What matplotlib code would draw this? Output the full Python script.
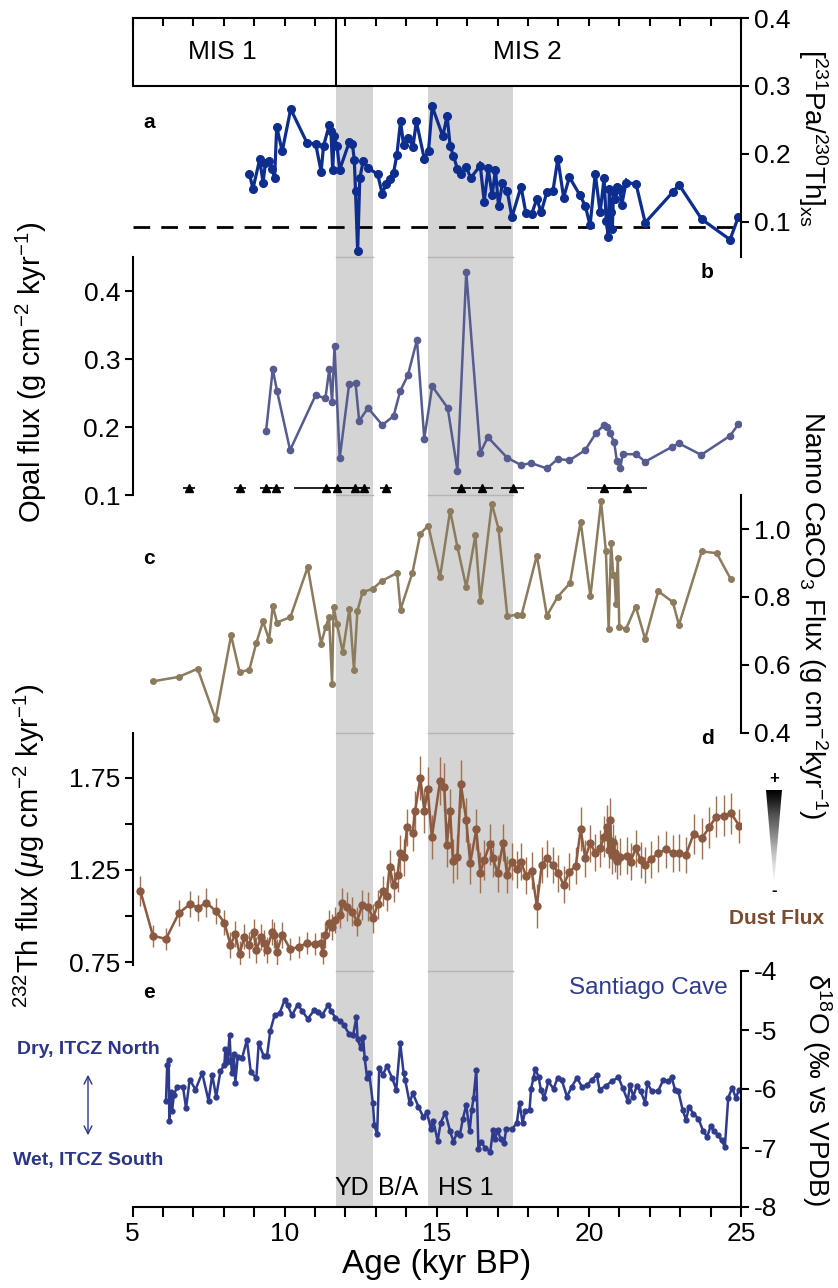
import matplotlib
matplotlib.use("Agg")
import matplotlib.pyplot as plt
import numpy as np
from matplotlib.patches import Polygon
from matplotlib.transforms import blended_transform_factory

plt.rcParams['font.family'] = ['Liberation Sans', 'DejaVu Sans']
plt.rcParams['mathtext.fontset'] = 'custom'
plt.rcParams['mathtext.rm'] = 'Liberation Sans'
plt.rcParams['mathtext.it'] = 'Liberation Sans:italic'
plt.rcParams['mathtext.bf'] = 'Liberation Sans:bold'

# ---- data ----
yd_band = (11.7, 12.9)
hs1_band = (14.7, 17.5)
mis_boundary = 11.7
pa_th_production = 0.093

# a: 231Pa/230Th xs
pa_age = [8.84, 8.96, 9.18, 9.29, 9.37, 9.49, 9.59, 9.67, 9.74, 9.92, 10.2, 10.74, 11.02, 11.2,
          11.28, 11.47, 11.52, 11.58, 11.63, 11.72, 11.81, 12.13, 12.23, 12.29, 12.33, 12.40,
          12.47, 12.58, 12.73, 13.06, 13.21, 13.33, 13.45, 13.58, 13.69, 13.81, 13.91, 14.07,
          14.22, 14.33, 14.59, 14.73, 14.85, 15.20, 15.34, 15.44, 15.55, 15.68, 15.80, 15.96,
          16.12, 16.43, 16.56, 16.69, 16.82, 16.93, 17.03, 17.16, 17.32, 17.47, 17.77, 17.93,
          18.12, 18.29, 18.43, 18.62, 18.82, 18.98, 19.17, 19.36, 19.71, 19.88, 20.04, 20.21,
          20.37, 20.50, 20.57, 20.64, 20.67, 20.72, 20.77, 20.81, 20.86, 20.92, 21.02, 21.08,
          21.22, 21.55, 21.85, 22.76, 22.96, 23.71, 24.64, 24.91]
pa_val = [0.171, 0.149, 0.192, 0.158, 0.187, 0.190, 0.178, 0.164, 0.240, 0.204, 0.266, 0.216,
          0.215, 0.174, 0.212, 0.243, 0.234, 0.176, 0.226, 0.212, 0.177, 0.218, 0.214, 0.191,
          0.146, 0.057, 0.164, 0.189, 0.180, 0.170, 0.141, 0.156, 0.163, 0.172, 0.199, 0.248,
          0.213, 0.223, 0.211, 0.248, 0.193, 0.205, 0.270, 0.226, 0.256, 0.212, 0.197, 0.178,
          0.170, 0.181, 0.165, 0.183, 0.130, 0.179, 0.139, 0.177, 0.123, 0.157, 0.145, 0.107,
          0.152, 0.113, 0.112, 0.134, 0.114, 0.144, 0.146, 0.193, 0.136, 0.166, 0.139, 0.124,
          0.095, 0.171, 0.114, 0.164, 0.102, 0.078, 0.148, 0.114, 0.090, 0.144, 0.134, 0.152,
          0.148, 0.125, 0.158, 0.156, 0.099, 0.144, 0.155, 0.104, 0.074, 0.107]
pa_err = 0.006

# b: opal flux
opal_age = [9.39, 9.61, 9.75, 10.18, 11.02, 11.34, 11.47, 11.56, 11.64, 11.81, 12.12, 12.33,
            12.45, 12.74, 13.21, 13.58, 13.80, 14.05, 14.35, 14.59, 14.85, 15.36, 15.68, 15.97,
            16.43, 16.68, 17.31, 17.77, 18.10, 18.62, 18.98, 19.36, 19.88, 20.23, 20.50, 20.61,
            20.70, 20.83, 20.92, 21.03, 21.11, 21.55, 21.85, 22.74, 22.96, 23.69, 24.64, 24.91]
opal_val = [0.194, 0.285, 0.253, 0.166, 0.247, 0.242, 0.286, 0.237, 0.319, 0.154, 0.263, 0.265,
            0.209, 0.228, 0.203, 0.216, 0.253, 0.276, 0.328, 0.183, 0.260, 0.228, 0.136, 0.428,
            0.162, 0.185, 0.155, 0.144, 0.147, 0.139, 0.153, 0.151, 0.166, 0.191, 0.203, 0.200,
            0.191, 0.178, 0.150, 0.139, 0.160, 0.160, 0.149, 0.171, 0.176, 0.159, 0.187, 0.204]

# age control points
tie_age = [6.87, 8.52, 9.39, 9.72, 11.37, 11.72, 12.32, 12.60, 13.34, 15.80, 16.50, 17.49, 20.51, 21.24]
tie_err = [0.2, 0.2, 0.2, 0.25, 1.05, 0.3, 0.3, 0.2, 0.2, 0.33, 0.35, 0.37, 0.56, 0.66]
tie_y = 0.11

# c: nanno CaCO3 flux
caco3_age = [5.67, 6.52, 7.14, 7.73, 8.24, 8.52, 8.84, 9.07, 9.29, 9.49, 9.61, 9.75, 10.19,
             10.76, 11.20, 11.35, 11.46, 11.56, 11.61, 11.72, 11.91, 12.13, 12.28, 12.39, 12.56,
             12.89, 13.21, 13.70, 13.81, 14.20, 14.46, 14.72, 15.11, 15.44, 15.68, 15.97, 16.27,
             16.43, 16.81, 17.03, 17.32, 17.63, 17.79, 18.29, 18.62, 18.97, 19.38, 19.73, 20.05,
             20.40, 20.56, 20.65, 20.73, 20.80, 20.84, 20.89, 20.95, 21.00, 21.22, 21.54, 21.85,
             22.28, 22.76, 22.96, 23.71, 24.20, 24.66]
caco3_val = [0.552, 0.565, 0.589, 0.441, 0.687, 0.579, 0.586, 0.665, 0.728, 0.674, 0.774, 0.725,
             0.741, 0.888, 0.663, 0.712, 0.741, 0.545, 0.771, 0.721, 0.638, 0.766, 0.586, 0.758,
             0.814, 0.824, 0.848, 0.871, 0.763, 0.871, 0.986, 1.010, 0.859, 1.054, 0.947, 0.829,
             0.981, 0.789, 1.074, 1.001, 0.743, 0.748, 0.748, 0.922, 0.745, 0.800, 0.841, 1.022,
             0.802, 1.081, 0.934, 0.707, 0.959, 0.866, 0.866, 0.780, 0.915, 0.713, 0.706, 0.772,
             0.676, 0.817, 0.785, 0.718, 0.934, 0.929, 0.853]

# d: 232Th flux
th_age = [5.26, 5.67, 6.10, 6.52, 6.88, 7.16, 7.43, 7.73, 8.02, 8.22, 8.38, 8.52, 8.68, 8.82,
          8.98, 9.07, 9.23, 9.31, 9.42, 9.59, 9.66, 9.75, 9.92, 10.19, 10.46, 10.74, 11.01,
          11.19, 11.26, 11.34, 11.45, 11.56, 11.67, 11.81, 11.89, 12.05, 12.22, 12.38, 12.55,
          12.73, 12.91, 13.06, 13.23, 13.36, 13.45, 13.58, 13.71, 13.80, 13.93, 14.02, 14.21,
          14.29, 14.46, 14.59, 14.70, 14.84, 15.11, 15.25, 15.33, 15.44, 15.53, 15.68, 15.79,
          15.97, 16.10, 16.30, 16.43, 16.56, 16.74, 16.85, 17.00, 17.18, 17.31, 17.47, 17.63,
          17.77, 17.93, 18.12, 18.29, 18.45, 18.62, 18.82, 19.00, 19.17, 19.36, 19.57, 19.73,
          19.88, 20.04, 20.21, 20.37, 20.50, 20.59, 20.65, 20.70, 20.75, 20.80, 20.86, 20.92,
          21.02, 21.24, 21.37, 21.55, 21.70, 21.85, 22.03, 22.28, 22.54, 22.76, 22.96, 23.19,
          23.44, 23.71, 23.96, 24.18, 24.43, 24.67, 24.95]
th_val = [1.136, 0.894, 0.876, 1.015, 1.064, 1.046, 1.073, 1.028, 0.965, 0.844, 0.903, 0.795,
          0.889, 0.844, 0.913, 0.817, 0.886, 0.853, 0.817, 0.916, 0.898, 0.807, 0.898, 0.820,
          0.834, 0.853, 0.847, 0.853, 0.799, 0.898, 0.961, 0.943, 0.979, 1.006, 1.073, 1.051,
          1.024, 0.970, 1.060, 1.051, 0.988, 1.064, 1.136, 1.109, 1.268, 1.169, 1.223, 1.340,
          1.319, 1.481, 1.452, 1.570, 1.750, 1.570, 1.687, 1.427, 1.734, 1.698, 1.385, 1.570,
          1.300, 1.322, 1.716, 1.521, 1.286, 1.470, 1.236, 1.304, 1.389, 1.313, 1.232, 1.398,
          1.223, 1.295, 1.254, 1.295, 1.218, 1.246, 1.055, 1.277, 1.313, 1.277, 1.232, 1.169,
          1.241, 1.272, 1.470, 1.313, 1.395, 1.344, 1.368, 1.430, 1.484, 1.360, 1.521, 1.330,
          1.400, 1.340, 1.300, 1.322, 1.326, 1.295, 1.368, 1.304, 1.277, 1.308, 1.340, 1.362,
          1.340, 1.344, 1.331, 1.445, 1.421, 1.481, 1.539, 1.544, 1.557, 1.488]
th_err = [0.08, 0.06, 0.06, 0.07, 0.07, 0.07, 0.08, 0.07, 0.07, 0.07, 0.07, 0.07, 0.07, 0.07,
          0.07, 0.07, 0.07, 0.07, 0.07, 0.07, 0.07, 0.07, 0.07, 0.06, 0.06, 0.06, 0.06,
          0.06, 0.06, 0.07, 0.07, 0.07, 0.07, 0.07, 0.08, 0.08, 0.08, 0.08, 0.08,
          0.08, 0.08, 0.08, 0.08, 0.08, 0.09, 0.09, 0.09, 0.10, 0.10, 0.10, 0.10,
          0.11, 0.12, 0.12, 0.12, 0.12, 0.13, 0.13, 0.12, 0.12, 0.12, 0.12, 0.13,
          0.12, 0.11, 0.11, 0.11, 0.11, 0.11, 0.10, 0.10, 0.10, 0.10, 0.10, 0.10,
          0.10, 0.10, 0.10, 0.12, 0.10, 0.10, 0.10, 0.10, 0.10, 0.10, 0.10, 0.12,
          0.10, 0.10, 0.10, 0.10, 0.11, 0.12, 0.10, 0.12, 0.10, 0.10, 0.10, 0.10,
          0.10, 0.10, 0.10, 0.10, 0.10, 0.10, 0.10, 0.10, 0.10, 0.10, 0.10, 0.10,
          0.11, 0.11, 0.11, 0.11, 0.11, 0.11, 0.09]

# e: Santiago Cave d18O
d18o_age = [6.10, 6.14, 6.19, 6.21, 6.25, 6.30, 6.36, 6.47, 6.66, 6.76, 6.88, 7.07, 7.29, 7.50,
            7.62, 7.75, 7.89, 8.02, 8.05, 8.12, 8.19, 8.23, 8.27, 8.33, 8.38, 8.46, 8.60, 8.76,
            8.89, 9.07, 9.15, 9.31, 9.42, 9.53, 9.67, 9.84, 10.00, 10.10, 10.24, 10.43, 10.57,
            10.76, 10.98, 11.09, 11.23, 11.43, 11.53, 11.67, 11.83, 11.94, 12.11, 12.25, 12.36,
            12.40, 12.50, 12.58, 12.63, 12.71, 12.78, 12.90, 12.95, 13.04, 13.11, 13.23, 13.36,
            13.53, 13.67, 13.80, 13.91, 13.96, 14.11, 14.21, 14.40, 14.56, 14.67, 14.81, 14.89,
            15.03, 15.13, 15.28, 15.44, 15.55, 15.66, 15.76, 15.86, 15.97, 16.08, 16.15, 16.21,
            16.30, 16.37, 16.46, 16.59, 16.76, 16.85, 16.92, 17.00, 17.10, 17.22, 17.28, 17.47,
            17.63, 17.72, 17.82, 17.91, 18.05, 18.10, 18.18, 18.24, 18.35, 18.42, 18.53, 18.67,
            18.84, 18.97, 19.11, 19.28, 19.44, 19.61, 19.77, 19.93, 20.10, 20.26, 20.35, 20.55,
            20.75, 20.97, 21.11, 21.28, 21.35, 21.46, 21.57, 21.70, 21.85, 21.92, 22.07, 22.28,
            22.45, 22.61, 22.72, 22.83, 22.94, 23.08, 23.19, 23.30, 23.43, 23.60, 23.76, 23.89,
            24.00, 24.12, 24.25, 24.36, 24.47, 24.58, 24.71, 24.83, 24.94]
d18o_val = [-6.21, -5.59, -5.50, -6.55, -6.05, -6.38, -6.10, -5.96, -5.96, -6.33, -5.84, -6.01,
            -5.73, -6.20, -5.76, -6.13, -5.70, -5.59, -5.33, -5.55, -5.09, -5.50, -5.73, -5.40,
            -5.89, -5.45, -5.48, -5.17, -5.72, -5.81, -5.22, -5.44, -5.44, -5.01, -4.75, -4.71,
            -4.49, -4.58, -4.75, -4.57, -4.67, -4.81, -4.66, -4.70, -4.75, -4.58, -4.68, -4.79,
            -4.85, -4.91, -5.06, -5.09, -4.78, -5.16, -5.30, -5.12, -5.47, -5.81, -5.73, -6.24,
            -6.61, -6.77, -5.64, -5.76, -5.61, -5.81, -6.01, -5.22, -5.73, -5.84, -6.24, -6.07,
            -6.30, -6.48, -6.39, -6.67, -6.55, -6.88, -6.57, -6.40, -6.72, -6.89, -6.75, -6.78,
            -6.50, -6.27, -6.72, -6.35, -6.15, -5.67, -7.02, -6.89, -7.00, -7.06, -6.69, -6.85,
            -6.69, -6.85, -6.91, -6.67, -6.68, -6.58, -6.24, -6.57, -6.37, -6.35, -6.00, -5.81,
            -5.66, -5.80, -6.01, -6.15, -5.87, -6.00, -5.81, -5.85, -6.13, -5.96, -5.81, -5.96,
            -5.94, -5.84, -5.76, -6.01, -5.95, -5.87, -5.80, -5.98, -6.20, -5.93, -6.13, -5.95,
            -6.04, -6.23, -5.90, -6.04, -6.03, -5.84, -5.87, -5.80, -6.01, -6.04, -6.35, -6.52,
            -6.30, -6.42, -6.50, -6.72, -6.81, -6.63, -6.72, -6.78, -6.87, -6.98, -6.15, -5.98,
            -6.15, -6.01]

# ---- layout helpers (pixel -> figure fraction) ----
W, H = 838, 1288
def fx(x):
    return x / W
def fy(y):
    return 1 - y / H

X0, X1 = 132.5, 741
def panel(top, bottom):
    return [fx(X0), fy(bottom), fx(X1) - fx(X0), (bottom - top) / H]

fig = plt.figure(figsize=(W / 100, H / 100), dpi=100)

col_a = '#0d2d8f'
col_b = '#565b90'
col_c = '#8c7b5d'
col_d = '#8b5a40'
col_e = '#2f3b8c'
shade = '#d4d4d4'
lw_sp = 1.5
tick_fs = 19
label_fs = 20

# background shading axes
ax_bg = fig.add_axes(panel(87, 1207))
ax_bg.set_xlim(5, 25)
ax_bg.set_ylim(0, 1)
ax_bg.axis('off')
for b0, b1 in (yd_band, hs1_band):
    ax_bg.axvspan(b0, b1, color=shade, lw=0)

ax_a = fig.add_axes(panel(18, 257))
ax_b = fig.add_axes(panel(257, 495))
ax_c = fig.add_axes(panel(495, 733))
ax_d = fig.add_axes(panel(733, 965))
ax_e = fig.add_axes(panel(971, 1207))

trans = blended_transform_factory(ax_bg.transData, fig.transFigure)
for ax in (ax_b, ax_c, ax_d, ax_e):
    ytop = ax.get_position().y1
    for b0, b1 in (yd_band, hs1_band):
        ax_bg.plot([b0, b1], [ytop, ytop], color='#b5b5b5', lw=1, transform=trans)

for ax in (ax_a, ax_b, ax_c, ax_d, ax_e):
    ax.set_facecolor('none')
    ax.set_xlim(5, 25)
    for s in ax.spines.values():
        s.set_visible(False)
        s.set_linewidth(lw_sp)
    ax.tick_params(axis='x', bottom=False, labelbottom=False)
    ax.tick_params(axis='y', labelsize=tick_fs, width=lw_sp, length=6, direction='out')

def right_axis(ax):
    ax.spines['right'].set_visible(True)
    ax.yaxis.tick_right()
    ax.tick_params(axis='y', left=False, right=True, labelleft=False, labelright=True, pad=3)

def left_axis(ax):
    ax.spines['left'].set_visible(True)
    ax.tick_params(axis='y', left=True, right=False, pad=3)

# ---- a ----
ax_a.set_ylim(0.0485, 0.4)
right_axis(ax_a)
ax_a.set_yticks([0.1, 0.2, 0.3, 0.4])
ax_a.set_yticklabels(['0.1', '0.2', '0.3', '0.4'])
ax_a.spines['top'].set_visible(True)
ax_a.spines['left'].set_visible(True)
ax_a.spines['left'].set_bounds(0.3, 0.4)
ax_a.tick_params(axis='x', top=True, bottom=False, labeltop=False, labelbottom=False,
                 direction='in', length=6, width=lw_sp)
ax_a.set_xticks(range(5, 26))
ax_a.axhline(0.3, color='black', lw=lw_sp)
ax_a.plot([mis_boundary, mis_boundary], [0.3, 0.4], color='black', lw=lw_sp)
ax_a.text(7.95, 0.35, 'MIS 1', ha='center', va='center', fontsize=19)
ax_a.text(17.97, 0.35, 'MIS 2', ha='center', va='center', fontsize=19)
ax_a.axhline(pa_th_production, color='black', lw=2, dashes=(6, 4))
ax_a.errorbar(pa_age, pa_val, yerr=pa_err, color=col_a, lw=2.3, marker='o', ms=5.5,
              elinewidth=1.2, capsize=0)

# ---- b ----
ax_b.set_ylim(0.1, 0.45)
left_axis(ax_b)
ax_b.set_yticks([0.1, 0.2, 0.3, 0.4])
ax_b.set_yticklabels(['0.1', '0.2', '0.3', '0.4'])
ax_b.plot(opal_age, opal_val, color=col_b, lw=1.8, marker='o', ms=4.5)
ax_b.errorbar(tie_age, [tie_y] * len(tie_age), xerr=tie_err, fmt='^', color='black',
              ms=5.5, elinewidth=1.2, capsize=0)

# ---- c ----
ax_c.set_ylim(0.4, 1.1)
right_axis(ax_c)
ax_c.set_yticks([0.4, 0.6, 0.8, 1.0])
ax_c.set_yticklabels(['0.4', '0.6', '0.8', '1.0'])
ax_c.plot(caco3_age, caco3_val, color=col_c, lw=1.8, marker='o', ms=4)

# ---- d ----
ax_d.set_ylim(0.735, 1.992)
left_axis(ax_d)
ax_d.set_yticks([0.75, 1.0, 1.25, 1.5, 1.75])
ax_d.set_yticklabels(['0.75', '', '1.25', '', '1.75'])
ax_d.errorbar(th_age, th_val, yerr=th_err, fmt='none', ecolor='#a0704f', elinewidth=1, capsize=0)
ax_d.plot(th_age, th_val, color=col_d, lw=1.8, marker='o', ms=5)

# ---- e ----
ax_e.set_ylim(-8, -4)
right_axis(ax_e)
ax_e.set_yticks([-8, -7, -6, -5, -4])
ax_e.set_yticklabels(['-8', '-7', '-6', '-5', '-4'])
ax_e.spines['bottom'].set_visible(True)
ax_e.set_xticks([5, 10, 15, 20, 25])
ax_e.set_xticks(range(5, 26), minor=True)
ax_e.tick_params(axis='x', which='both', bottom=True, labelbottom=True, direction='out',
                 length=7, width=lw_sp, labelsize=tick_fs, pad=4)
ax_e.plot(d18o_age, d18o_val, color=col_e, lw=1.8, marker='o', ms=3.5)
ax_e.text(12.22, -7.68, 'YD', ha='center', va='center', fontsize=18)
ax_e.text(13.72, -7.68, 'B/A', ha='center', va='center', fontsize=18)
ax_e.text(15.95, -7.68, 'HS 1', ha='center', va='center', fontsize=18)
ax_e.set_xlabel('Age (kyr BP)', fontsize=24, labelpad=2)

# ---- axis labels ----
fig.text(fx(813), fy(138), r'[$^{231}$Pa/$^{230}$Th]$_{\mathrm{xs}}$', rotation=270,
         ha='center', va='center', fontsize=label_fs)
fig.text(fx(31), fy(372), r'Opal flux (g cm$^{-2}$ kyr$^{-1}$)', rotation=90,
         ha='center', va='center', fontsize=21)
fig.text(fx(813), fy(615), r'Nanno CaCO$_3$ Flux (g cm$^{-2}$kyr$^{-1}$)', rotation=270,
         ha='center', va='center', fontsize=label_fs)
fig.text(fx(29), fy(846), r'$^{232}$Th flux ($\mu$g cm$^{-2}$ kyr$^{-1}$)', rotation=90,
         ha='center', va='center', fontsize=21)
fig.text(fx(817), fy(1089), r'δ$^{18}$O (‰ vs VPDB)', rotation=270,
         ha='center', va='center', fontsize=label_fs)

# panel letters
for lab, x, y in (('a', 149, 122), ('b', 707, 273), ('c', 149, 558), ('d', 707, 738), ('e', 149, 992)):
    fig.text(fx(x), fy(y), lab, ha='center', va='center', fontsize=15, fontweight='bold')

fig.text(fx(648), fy(988), 'Santiago Cave', ha='center', va='center', fontsize=17.5, color=col_e)

narrow = ['Liberation Sans Narrow', 'Liberation Sans', 'DejaVu Sans']
fig.text(fx(88), fy(1050), 'Dry, ITCZ North', ha='center', va='center', fontsize=14,
         fontweight='bold', color='#2b3585', family=narrow)
fig.text(fx(88), fy(1160), 'Wet, ITCZ South', ha='center', va='center', fontsize=14,
         fontweight='bold', color='#2b3585', family=narrow)
fig.add_artist(matplotlib.patches.FancyArrowPatch((fx(88), fy(1072)), (fx(88), fy(1138)),
               transform=fig.transFigure, arrowstyle='<->', mutation_scale=14,
               color='#2b3585', lw=1))

# dust flux wedge
ax_w = fig.add_axes([fx(766), fy(884), fx(782) - fx(766), (884 - 790) / H])
ax_w.axis('off')
grad = np.linspace(0, 1, 256).reshape(-1, 1)
im = ax_w.imshow(grad, cmap='Greys', aspect='auto', extent=[0, 1, 0, 1], origin='lower',
                 vmin=-0.05, vmax=1.0)
tri = Polygon([(0, 1), (1, 1), (0.5, 0)], closed=True, transform=ax_w.transData)
im.set_clip_path(tri)
ax_w.set_xlim(0, 1)
ax_w.set_ylim(0, 1)
fig.text(fx(774), fy(779), '+', ha='center', va='center', fontsize=12, fontweight='bold')
fig.text(fx(774), fy(891), '-', ha='center', va='center', fontsize=12, fontweight='bold')
fig.text(fx(777), fy(918), 'Dust Flux', ha='center', va='center', fontsize=15,
         fontweight='bold', color='#7b4a30', family=narrow)

fig.savefig('out.png', dpi=100)
